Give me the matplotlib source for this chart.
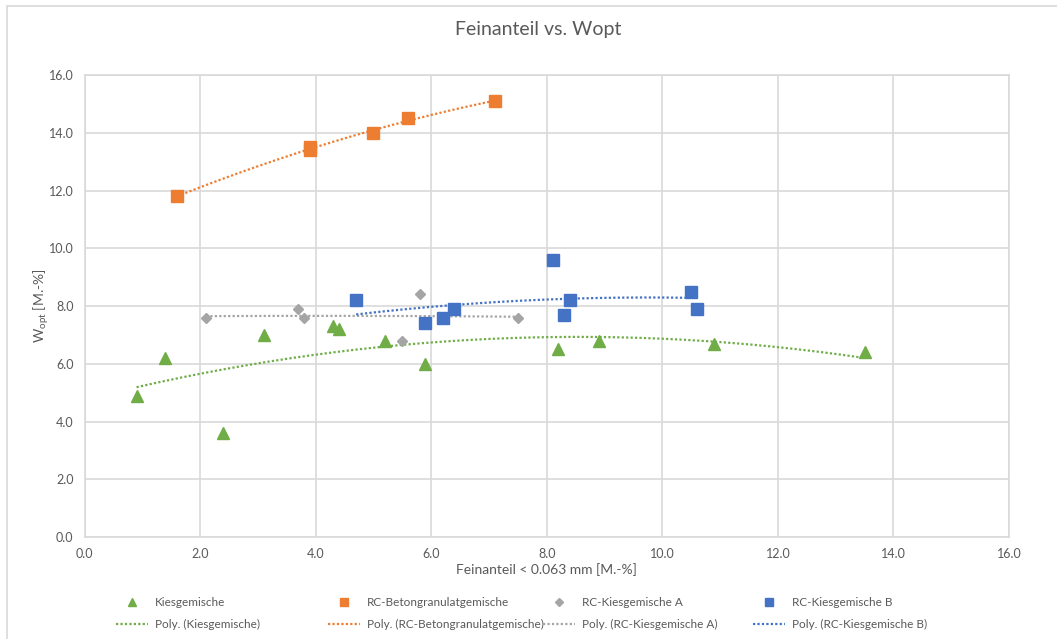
import numpy as np
import matplotlib
matplotlib.use("Agg")
import matplotlib.pyplot as plt
from matplotlib.lines import Line2D
from matplotlib.patches import Rectangle

plt.rcParams['font.family'] = ['Lato', 'DejaVu Sans']
plt.rcParams['mathtext.fontset'] = 'custom'
plt.rcParams['mathtext.rm'] = 'Lato'

# Messwerte: Feinanteil < 0.063 mm [M.-%] und Wopt [M.-%]
kies_x = [0.9, 1.4, 2.4, 3.1, 4.3, 4.4, 5.2, 5.9, 8.2, 8.9, 10.9, 13.5]
kies_y = [4.9, 6.2, 3.6, 7.0, 7.3, 7.2, 6.8, 6.0, 6.5, 6.8, 6.7, 6.4]

beton_x = [1.6, 3.9, 3.9, 5.0, 5.6, 7.1]
beton_y = [11.8, 13.4, 13.5, 14.0, 14.5, 15.1]

rca_x = [2.1, 3.7, 3.8, 5.5, 5.8, 7.5]
rca_y = [7.6, 7.9, 7.6, 6.8, 8.4, 7.6]

rcb_x = [4.7, 5.9, 6.2, 6.4, 8.1, 8.3, 8.4, 10.5, 10.6]
rcb_y = [8.2, 7.4, 7.6, 7.9, 9.6, 7.7, 8.2, 8.5, 7.9]

namen = ['Kiesgemische', 'RC-Betongranulatgemische', 'RC-Kiesgemische A', 'RC-Kiesgemische B']
farben = ['#70AD47', '#ED7D31', '#A5A5A5', '#4472C4']
marker = ['^', 's', 'D', 's']
msize = [8.5, 8.5, 5.5, 8.5]

ticks = np.arange(0, 16.1, 2.0)
grau = '#595959'
gitter = '#D9D9D9'

fig = plt.figure(figsize=(10.57, 6.39), dpi=100)
fig.patches.append(Rectangle((7 / 1057, -0.1), 1.2, 1 - 6 / 639 + 0.1, transform=fig.transFigure,
                             fill=False, edgecolor=gitter, lw=1.2, zorder=0))
ax = fig.add_axes([0.080, 0.1596, 0.8746, 0.723])

daten = [(kies_x, kies_y), (beton_x, beton_y), (rca_x, rca_y), (rcb_x, rcb_y)]
punkt_h, trend_h = [], []
for (x, y), name, f, m, s in zip(daten, namen, farben, marker, msize):
    ax.plot(x, y, linestyle='none', marker=m, ms=s, color=f, mec=f, zorder=3)
    # Polynomische Trendlinie 2. Ordnung
    c = np.polyfit(x, y, 2)
    xx = np.linspace(min(x), max(x), 200)
    ax.plot(xx, np.polyval(c, xx), color=f, lw=1.6, linestyle=(0, (1, 1)), zorder=2)
    punkt_h.append(Line2D([], [], linestyle='none', marker=m, ms=s * 0.75, color=f))
    trend_h.append(Line2D([], [], color=f, lw=1.6, linestyle=(0, (1, 1))))

ax.set_xlim(0, 16)
ax.set_ylim(0, 16)
ax.set_xticks(ticks)
ax.set_yticks(ticks)
ax.set_xticklabels([f'{t:.1f}' for t in ticks])
ax.set_yticklabels([f'{t:.1f}' for t in ticks])
ax.grid(True, color=gitter, lw=1.2)
ax.set_axisbelow(True)
for sp in ax.spines.values():
    sp.set_color(gitter)
    sp.set_linewidth(1.2)
ax.tick_params(length=0, labelsize=9, colors=grau, pad=8)

ax.set_xlabel('Feinanteil < 0.063 mm [M.-%]', fontsize=10, color=grau, labelpad=2)
ax.set_ylabel(r'W$_{\mathrm{opt}}$ [M.-%]', fontsize=10, color=grau, labelpad=-2)
fig.text(538 / 1057, 1 - 30 / 639, 'Feinanteil vs. Wopt', ha='center', va='center',
         fontsize=14, color=grau)

# Legende in vier Spalten, je Punkte oben und Trendlinie unten
spalten_x = [116, 328, 543, 753]
for i, xs in enumerate(spalten_x):
    fig.legend([punkt_h[i], trend_h[i]], [namen[i], f'Poly. ({namen[i]})'],
               loc='upper left', bbox_to_anchor=(xs / 1057, 1 - 597 / 639),
               frameon=False, fontsize=8.5, labelcolor=grau, borderpad=0,
               borderaxespad=0, handlelength=2.7, handletextpad=0.6,
               labelspacing=0.95)

fig.savefig('out.png', dpi=100)
